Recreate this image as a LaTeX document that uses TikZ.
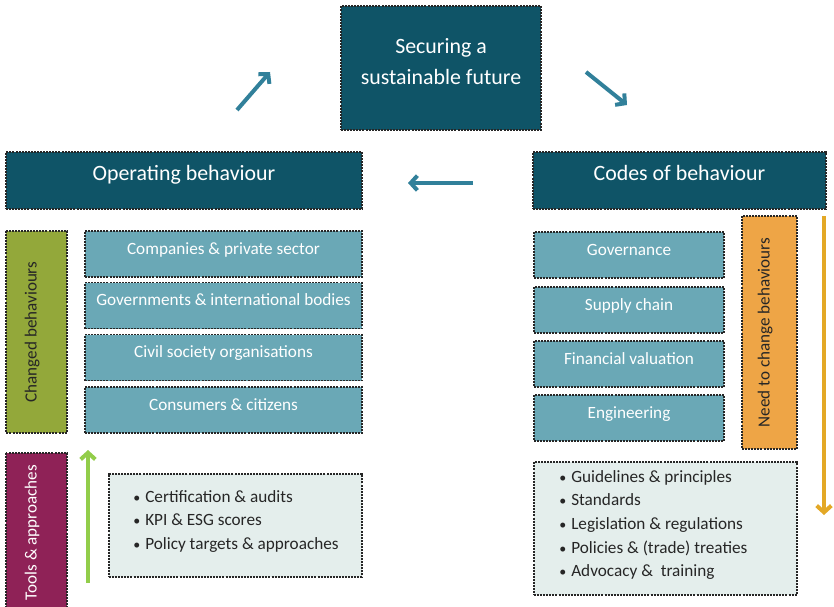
\documentclass[tikz,border=0pt]{standalone}
\usepackage{fontspec}
\setmainfont{Carlito}
\usepackage{xcolor}
\usepackage{tikz}
\usetikzlibrary{arrows.meta, positioning, calc}

\definecolor{darkteal}{HTML}{0F5467}
\definecolor{midteal}{HTML}{6AA8B6}
\definecolor{arrowteal}{HTML}{31809A}
\definecolor{olivebox}{HTML}{93A83A}
\definecolor{plumbox}{HTML}{8F2257}
\definecolor{orangebox}{HTML}{EEA546}
\definecolor{greenarrow}{HTML}{92CD4A}
\definecolor{goldarrow}{HTML}{E3A826}
\definecolor{listfill}{HTML}{E4EEEC}

\newcommand{\bulletmark}{\makebox[9pt][l]{\fontsize{10.5}{10}\selectfont\textbullet}}

\begin{document}
\begin{tikzpicture}[x=0.75pt, y=-0.75pt,
	dotbox/.style={draw=black!85, line width=1.1pt, dash pattern=on 1.5pt off 0.8pt, inner sep=0pt},
	headbox/.style={dotbox, fill=darkteal, text=white, font=\fontsize{16.4}{23.25}\selectfont, text height=8pt, text depth=8pt},
	itembox/.style={dotbox, fill=midteal, text=white, font=\fontsize{12.9}{15}\selectfont, minimum height=34.5pt, text height=6pt, text depth=6pt},
	sidebox/.style={dotbox, rotate=90, font=\fontsize{12.8}{15}\selectfont, text height=6pt, text depth=6pt},
	listbox/.style={dotbox, fill=listfill},
	listtext/.style={anchor=west, align=left, font=\fontsize{12.9}{17.8}\selectfont, inner sep=0pt, text=black!85},
	bigarrow/.style={line width=3pt, -{Straight Barb[length=5pt, width=11pt]}}
	]
	
	\useasboundingbox (0,0) rectangle (834,606);
	
	% ---------- Top of the cycle ----------
	\node[headbox, align=center, text height=29.5pt, text depth=4pt, minimum width=150pt, minimum height=93pt] (future) at (441,68) {Securing a\\sustainable future};
	\node[headbox, minimum width=267pt, minimum height=42.75pt] (operating) at (184,180.5) {Operating behaviour};
	\node[headbox, minimum width=219.75pt, minimum height=42.75pt] (codes) at (679.5,180.5) {Codes of behaviour};
	
	% cycle arrows
	\coordinate (ul0) at (237,110);
	\coordinate (ul1) at (270,72);
	\coordinate (ur0) at (586,72);
	\coordinate (ur1) at (627,105);
	\coordinate (lf0) at (473,183);
	\coordinate (lf1) at (408,183);
	\draw[bigarrow, arrowteal] (ul0) -- (ul1);
	\draw[bigarrow, arrowteal] (ur0) -- (ur1);
	\draw[bigarrow, arrowteal] (lf0) -- (lf1);
	
	% ---------- Left: operating behaviour ----------
	\node[sidebox, fill=olivebox, text=black!85, minimum width=151.5pt, minimum height=45.75pt] (changed) at (36.5,332) {Changed behaviours};
	\foreach \y/\name/\txt in {254/companies/Companies \& private sector,
		305.5/governments/Governments \& international bodies,
		357.5/civil/Civil society organisations,
		410/consumers/Consumers \& citizens} {
		\node[itembox, minimum width=207.75pt] (\name) at (223.5,\y) {\txt};
	}
	
	\node[sidebox, fill=plumbox, text=white, minimum width=119.25pt, minimum height=45.75pt] (tools) at (36.5,532.5) {Tools \& approaches};
	\coordinate (up0) at (88,583);
	\coordinate (up1) at (88,450);
	\draw[bigarrow, greenarrow] (up0) -- (up1);
	
	\node[listbox, minimum width=189.75pt, minimum height=77.25pt] (toolsbox) at (235.5,525.5) {};
	\node[listtext] (toolslist) at (133,521.5) {%
		\bulletmark Certification \& audits\\
		\bulletmark KPI \& ESG scores\\
		\bulletmark Policy targets \& approaches};
	
	% ---------- Right: codes of behaviour ----------
	\foreach \y/\name/\txt in {255/governance/Governance,
		310/supply/Supply chain,
		364/financial/Financial valuation,
		418/engineering/Engineering} {
		\node[itembox, minimum width=142.5pt] (\name) at (629,\y) {\txt};
	}
	\node[sidebox, fill=orangebox, text=black!85, minimum width=174.75pt, minimum height=41.25pt] (need) at (769.5,332.5) {Need to change behaviours};
	\coordinate (dn0) at (824,216);
	\coordinate (dn1) at (824,515);
	\draw[bigarrow, goldarrow] (dn0) -- (dn1);
	
	\node[listbox, minimum width=197.25pt, minimum height=99.75pt] (codesbox) at (665.5,528.5) {};
	\node[listtext] (codeslist) at (559,525) {%
		\bulletmark Guidelines \& principles\\
		\bulletmark Standards\\
		\bulletmark Legislation \& regulations\\
		\bulletmark Policies \& (trade) treaties\\
		\bulletmark Advocacy \&\ \ training};
	
\end{tikzpicture}
\end{document}
